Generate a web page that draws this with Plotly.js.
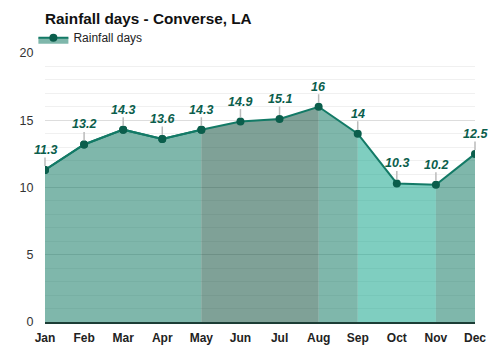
<!DOCTYPE html>
<html>
<head>
<meta charset="utf-8">
<script src="https://cdn.plot.ly/plotly-3.0.1.min.js"></script>
<style>html,body{margin:0;padding:0;background:#fff}#chart{width:500px;height:350px}</style>
</head>
<body>
<div id="chart"></div>
<script>
const months = ["Jan","Feb","Mar","Apr","May","Jun","Jul","Aug","Sep","Oct","Nov","Dec"];
const rainfallDays = [11.3, 13.2, 14.3, 13.6, 14.3, 14.9, 15.1, 16, 14, 10.3, 10.2, 12.5];
const yTicks = [0, 5, 10, 15, 20];

// shaded segments: [start index, end index, fill colour]
const segments = [
  [0, 4, "rgba(0,112,88,0.5)"],
  [4, 7, "rgba(0,68,48,0.5)"],
  [7, 8, "rgba(0,112,88,0.5)"],
  [8, 10, "rgba(0,158,130,0.5)"],
  [10, 11, "rgba(0,112,88,0.5)"]
];

const lineColor = "#137a66";
const markerColor = "#0b5e4c";
const font = "Liberation Sans, Arial, sans-serif";

const traces = segments.map((s, i) => ({
  type: "scatter",
  x: months.slice(s[0], s[1] + 1),
  y: rainfallDays.slice(s[0], s[1] + 1),
  mode: i === 0 ? "lines+markers" : "none",
  fill: "tozeroy",
  fillcolor: s[2],
  line: {color: lineColor, width: 2},
  marker: {color: markerColor, size: 8},
  name: "Rainfall days",
  showlegend: i === 0,
  hoverinfo: "skip"
}));

traces.push({
  type: "scatter",
  x: months,
  y: rainfallDays,
  mode: "lines+markers",
  line: {color: lineColor, width: 2},
  marker: {color: markerColor, size: 8},
  name: "Rainfall days",
  showlegend: false
});

const annotations = months.map((m, i) => ({
  x: m,
  y: rainfallDays[i],
  xref: "x",
  yref: "y",
  text: "<b><i>" + rainfallDays[i] + "</i></b>",
  showarrow: true,
  arrowhead: 0,
  arrowwidth: 1.5,
  arrowcolor: "#bbbbbb",
  ax: 0,
  ay: -20,
  standoff: 4,
  borderpad: 0,
  font: {family: font, size: 12.5, color: "#0b5e4c"}
}));

const layout = {
  width: 500,
  height: 350,
  margin: {l: 45, r: 25, t: 53, b: 28},
  paper_bgcolor: "#fff",
  plot_bgcolor: "#fff",
  title: {
    text: "<b>Rainfall days - Converse, LA</b>",
    x: 0, xanchor: "left", xref: "paper",
    y: 0.948, yanchor: "middle",
    font: {family: font, size: 15.3, color: "#111"}
  },
  showlegend: true,
  legend: {
    orientation: "h",
    x: -0.027, xanchor: "left",
    y: 1.057, yanchor: "middle",
    font: {family: font, size: 12, color: "#222"},
    bgcolor: "rgba(0,0,0,0)",
    itemwidth: 30
  },
  xaxis: {
    type: "category",
    range: [0, 11],
    showgrid: false,
    zeroline: false,
    showline: true,
    linecolor: "#1c3d35",
    linewidth: 2,
    ticks: "outside",
    ticklen: 4,
    tickcolor: "rgba(0,0,0,0)",
    tickfont: {family: font, size: 12, color: "#222", weight: "bold"},
    fixedrange: true
  },
  yaxis: {
    range: [0, 20],
    tickvals: yTicks,
    showgrid: true,
    gridcolor: "#dddddd",
    gridwidth: 1,
    zeroline: false,
    ticks: "outside",
    ticklen: 8,
    tickcolor: "rgba(0,0,0,0)",
    tickfont: {family: font, size: 12.5, color: "#333"},
    minor: {dtick: 1, showgrid: true, gridcolor: "#f0f0f0", gridwidth: 1},
    fixedrange: true
  },
  annotations: annotations
};

Plotly.newPlot("chart", traces, layout, {displayModeBar: false, staticPlot: true});
</script>
</body>
</html>
